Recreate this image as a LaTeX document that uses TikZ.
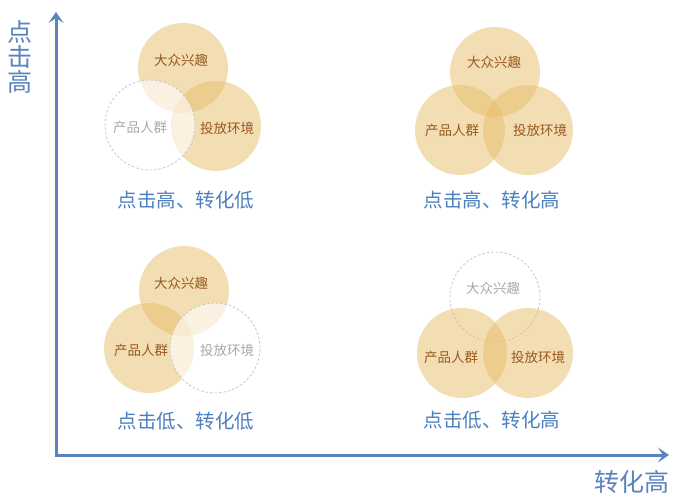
\documentclass[tikz,border=0pt]{standalone}
\usepackage{fontspec}
\usetikzlibrary{positioning}
\usetikzlibrary{arrows.meta}
\newfontfamily\cjk{Noto Sans CJK SC}
\definecolor{warm}{HTML}{E7BD67}
\definecolor{warmtext}{HTML}{98581F}
\definecolor{ghosttext}{HTML}{A8A8A8}
\definecolor{axisblue}{HTML}{5B83BE}
\definecolor{tagblue}{HTML}{4C7FBF}

\begin{document}
\begin{tikzpicture}[x=1pt, y=-1pt,
        ring/.style={circle, fill=warm, fill opacity=0.5, draw=none, minimum size=90pt, inner sep=0pt},
        ghost/.style={circle, draw=black!22, dash pattern=on 2.5pt off 2pt, line width=0.8pt, fill=white, fill opacity=0.6, minimum size=90pt, inner sep=0pt},
        ringtext/.style={text=warmtext, font=\cjk\fontsize{13.5}{16}\selectfont},
        ghosttext/.style={text=ghosttext, font=\cjk\fontsize{13.5}{16}\selectfont},
        tag/.style={text=tagblue, font=\cjk\fontsize{19.5}{22}\selectfont},
        axislabel/.style={text=axisblue, font=\cjk\fontsize{25}{25}\selectfont, align=center},
        ]
            \useasboundingbox (0,0) rectangle (690,500);

            % axes
            \coordinate (O) at (56,455);
            \coordinate (Ytop) at (56,12);
            \coordinate (Xend) at (669,455);
            \draw[axisblue, line width=3pt, line join=miter,
                  {Stealth[length=11pt, width=15pt, inset=5pt]}-{Stealth[length=11pt, width=15pt, inset=5pt]}]
                  (Ytop) -- (O) -- (Xend);
            \node[axislabel] (Ylab) at (20,57) {点\\击\\高};
            \node[axislabel] (Xlab) at (632,482) {转化高};

            % top left: high click, low conversion
            \node[ring] (I1) at (183,68) {};
            \node[ring] (E1) at (216,126) {};
            \node[ghost] (P1) at (150,125) {};
            \node[ringtext] (tI1) at (181,60) {大众兴趣};
            \node[ghosttext] (tP1) at (140,127) {产品人群};
            \node[ringtext] (tE1) at (227,128) {投放环境};
            \node[tag] (L1) at (186,200) {点击高、转化低};

            % top right: high click, high conversion
            \node[ring] (I2) at (495,72) {};
            \node[ring] (P2) at (460,130) {};
            \node[ring] (E2) at (528,130) {};
            \node[ringtext] (tI2) at (494,62) {大众兴趣};
            \node[ringtext] (tP2) at (452,130) {产品人群};
            \node[ringtext] (tE2) at (540,130) {投放环境};
            \node[tag] (L2) at (492,200) {点击高、转化高};

            % bottom left: low click, low conversion
            \node[ring] (I3) at (184,291) {};
            \node[ring] (P3) at (149,348) {};
            \node[ghost] (E3) at (215,348) {};
            \node[ringtext] (tI3) at (181,283) {大众兴趣};
            \node[ringtext] (tP3) at (141,350) {产品人群};
            \node[ghosttext] (tE3) at (227,350) {投放环境};
            \node[tag] (L3) at (186,421) {点击低、转化低};

            % bottom right: low click, high conversion
            \node[ghost, fill=none] (I4) at (495,297) {};
            \node[ring] (P4) at (462,353) {};
            \node[ring] (E4) at (528,353) {};
            \node[ghosttext] (tI4) at (493,288) {大众兴趣};
            \node[ringtext] (tP4) at (451,357) {产品人群};
            \node[ringtext] (tE4) at (538,357) {投放环境};
            \node[tag] (L4) at (492,420) {点击低、转化高};
        \end{tikzpicture}
\end{document}
